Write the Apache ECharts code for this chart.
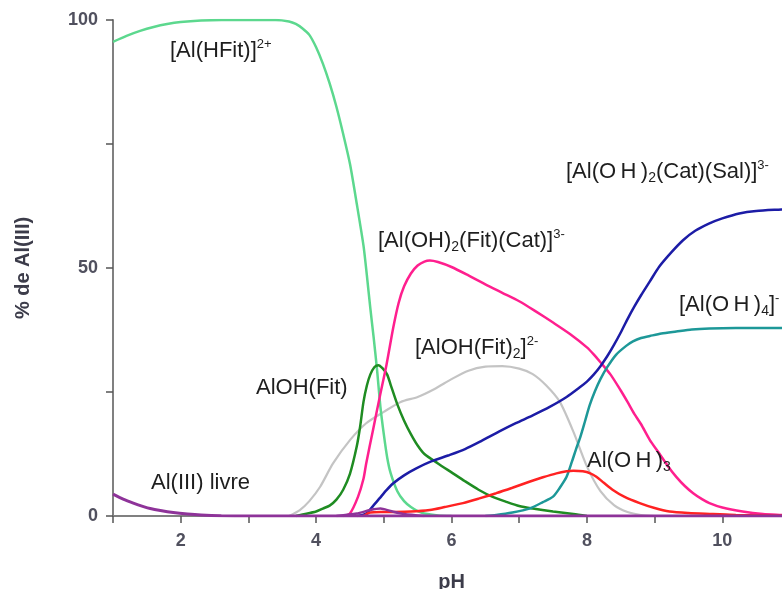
<!DOCTYPE html>
<html>
<head>
<meta charset="utf-8">
<script src="https://cdn.jsdelivr.net/npm/echarts@6/dist/echarts.min.js"></script>
<style>
  html, body { margin: 0; padding: 0; background: #ffffff; }
  #chart { width: 782px; height: 589px; }
</style>
</head>
<body>
<div id="chart"></div>
<script>
// Speciation of Al(III): percentage of each species versus pH
const xTicks = [2, 4, 6, 8, 10];
const yTicks = [0, 50, 100];

// [pH, % de Al(III)] for each species
const alLivre = [[1.0,4.4],[1.15,3.4],[1.3,2.6],[1.45,1.9],[1.55,1.5],[1.7,1.1],[1.89,0.7],[2.1,0.4],[2.3,0.2],[2.6,0.05],[3.0,0],[5.0,0],[8.0,0],[11.0,0]];
const alFitMinor = [[4.3,0],[4.6,0.5],[4.8,1.2],[4.95,1.5],[5.1,1.0],[5.3,0.4],[5.6,0]];
const alHFit = [[1.0,95.6],[1.2,96.8],[1.4,97.8],[1.6,98.6],[1.8,99.2],[2.0,99.6],[2.3,99.9],[2.6,100],[3.0,100],[3.4,100],[3.6,99.7],[3.7,99.2],[3.8,98.3],[3.9,97.0],[4.0,94.5],[4.1,91.2],[4.2,87.2],[4.3,82.5],[4.4,77],[4.5,71],[4.6,63],[4.7,54.5],[4.75,48.5],[4.8,42],[4.85,36],[4.9,29.5],[4.95,22],[5.0,16.5],[5.05,11.8],[5.1,8.7],[5.2,5],[5.3,3],[5.4,1.8],[5.5,1],[5.6,0.5],[5.8,0.1],[6.0,0]];
const alOHFit = [[3.7,0],[3.8,0.3],[4.0,0.9],[4.1,1.5],[4.2,2.1],[4.3,3.3],[4.4,5.3],[4.5,8.5],[4.6,14],[4.65,18],[4.7,23],[4.75,26.3],[4.8,28.5],[4.86,30],[4.92,30.4],[4.98,29.8],[5.05,28.5],[5.1,26.5],[5.2,22.5],[5.3,19.2],[5.4,16.5],[5.5,14.2],[5.6,12.5],[5.8,10.6],[6.0,8.8],[6.2,7],[6.4,5.3],[6.6,3.9],[6.8,2.9],[7.0,2],[7.2,1.5],[7.5,0.9],[7.8,0.4],[8.0,0]];
const alOHFit2 = [[3.6,0],[3.76,1.2],[3.9,3],[4.06,5.9],[4.25,10.6],[4.5,15.3],[4.74,18.7],[5.0,21],[5.25,23],[5.5,24],[5.75,25.6],[6.0,27.6],[6.25,29.3],[6.5,30.1],[6.75,30.2],[7.0,29.7],[7.2,28.6],[7.4,26.3],[7.6,23],[7.8,17],[8.0,10],[8.2,5],[8.4,2.2],[8.6,0.8],[8.8,0.2],[9.0,0]];
const alOH2FitCat = [[4.4,0],[4.5,0.5],[4.62,3.9],[4.7,7.5],[4.74,10.6],[4.84,17.3],[4.94,24],[5.04,30.5],[5.14,38],[5.22,43],[5.3,46.3],[5.4,48.9],[5.5,50.5],[5.6,51.3],[5.68,51.5],[5.8,51.2],[6.0,50.2],[6.25,48.5],[6.5,46.7],[6.75,45],[7.0,43.3],[7.25,41.2],[7.5,39],[7.75,36.7],[8.0,34],[8.1,32.6],[8.2,31],[8.35,28.5],[8.5,25.3],[8.6,23],[8.7,20.6],[8.8,18.5],[8.93,15.3],[9.07,12.6],[9.2,10],[9.32,7.9],[9.45,6],[9.57,4.6],[9.7,3.4],[9.81,2.6],[10.0,1.7],[10.3,0.9],[10.6,0.4],[10.9,0.2],[11.0,0.1]];
const alOH2CatSal = [[4.6,0],[4.74,0.5],[4.84,2],[4.94,3.6],[5.04,5.2],[5.14,6.6],[5.3,8.2],[5.48,9.6],[5.7,11],[5.95,12.2],[6.2,13.5],[6.45,15.2],[6.7,17],[6.95,18.7],[7.2,20.3],[7.45,22],[7.7,24],[7.9,26],[8.0,27.1],[8.1,28.5],[8.2,30.2],[8.3,32.2],[8.4,34.5],[8.5,37],[8.6,39.7],[8.7,42.2],[8.8,44.5],[8.93,47.3],[9.07,50.3],[9.25,53.2],[9.42,55.6],[9.6,57.5],[9.81,59],[10.0,60],[10.25,61],[10.5,61.5],[10.87,61.8],[11.0,61.9]];
const alOH4 = [[6.5,0],[6.66,0.2],[6.9,0.7],[7.15,1.5],[7.35,2.8],[7.5,3.9],[7.6,5.7],[7.7,7.9],[7.78,11],[7.84,13.5],[7.9,15.8],[7.97,19],[8.04,22.3],[8.12,25.2],[8.2,27.6],[8.3,30],[8.43,32.5],[8.58,34.3],[8.68,35.2],[8.8,35.9],[8.93,36.3],[9.1,36.8],[9.32,37.2],[9.55,37.6],[9.81,37.8],[10.2,37.9],[11.0,37.9]];
const alOH3 = [[4.7,0],[4.8,0.7],[5.0,0.8],[5.4,0.9],[5.68,1.2],[5.9,1.8],[6.17,2.6],[6.4,3.5],[6.66,4.6],[6.9,5.7],[7.15,6.9],[7.35,7.8],[7.55,8.6],[7.7,9.0],[7.8,9.1],[7.94,9.0],[8.05,8.6],[8.14,7.9],[8.25,6.7],[8.39,5.2],[8.55,3.9],[8.78,2.6],[9.0,1.6],[9.22,0.9],[9.5,0.6],[9.86,0.4],[10.2,0.2],[11.0,0]];

const FONT = '"Liberation Sans", Arial, sans-serif';
const TXT = '#1e1e1e';
const LBL = 22;

function curve(name, data, color, width, z) {
  return {
    name: name,
    type: 'line',
    data: data,
    smooth: 0.25,
    symbol: 'none',
    z: z,
    lineStyle: { color: color, width: width },
    emphasis: { disabled: true }
  };
}

function label(left, top, text) {
  return {
    type: 'text',
    left: left,
    top: top,
    z: 100,
    style: {
      text: text,
      fill: TXT,
      font: LBL + 'px ' + FONT,
      rich: {
        m: { fontSize: LBL, fontFamily: FONT, fill: TXT, color: TXT, lineHeight: 26, verticalAlign: 'middle' },
        sup: { fontSize: 13, fontFamily: FONT, fill: TXT, color: TXT, lineHeight: 26, verticalAlign: 'top' },
        sub: { fontSize: 14, fontFamily: FONT, fill: TXT, color: TXT, lineHeight: 26, verticalAlign: 'bottom' }
      }
    }
  };
}

const chart = echarts.init(document.getElementById('chart'), null, { renderer: 'canvas' });

chart.setOption({
  animation: false,
  backgroundColor: '#ffffff',
  grid: { left: 113, top: 20, right: -8, bottom: 73, containLabel: false, outerBoundsMode: 'none' },
  xAxis: [{
    type: 'value',
    min: 1,
    max: 11,
    interval: 1,
    name: 'pH',
    nameLocation: 'middle',
    nameGap: 56,
    nameTextStyle: { fontFamily: FONT, fontSize: 20, fontWeight: 'bold', color: '#3c3c4a' },
    axisLine: { show: true, onZero: false, lineStyle: { color: '#808080', width: 2 } },
    axisTick: { show: true, inside: false, length: 7, lineStyle: { color: '#555555', width: 1.5 } },
    axisLabel: {
      margin: 16,
      fontFamily: FONT, fontSize: 18, fontWeight: 'bold', color: '#50505e',
      formatter: v => (xTicks.indexOf(v) >= 0 ? String(v) : '')
    },
    splitLine: { show: false }
  }, {
    type: 'value',
    position: 'top',
    min: 1,
    max: 11,
    axisLine: { show: true, lineStyle: { color: '#808080', width: 2 } },
    axisTick: { show: false },
    axisLabel: { show: false },
    splitLine: { show: false }
  }],
  yAxis: {
    type: 'value',
    min: 0,
    max: 100,
    interval: 25,
    name: '% de Al(III)',
    nameLocation: 'middle',
    nameGap: 80,
    nameRotate: 90,
    nameTextStyle: { fontFamily: FONT, fontSize: 20, fontWeight: 'bold', color: '#3c3c4a' },
    axisLine: { show: true, lineStyle: { color: '#808080', width: 2 } },
    axisTick: { show: true, inside: false, length: 7, lineStyle: { color: '#555555', width: 1.5 } },
    axisLabel: {
      margin: 15,
      fontFamily: FONT, fontSize: 18, fontWeight: 'bold', color: '#50505e',
      formatter: v => (yTicks.indexOf(v) >= 0 ? String(v) : '')
    },
    splitLine: { show: false }
  },
  series: [
    curve('[Al(HFit)]2+', alHFit, '#5cd88e', 2.5, 3),
    curve('[AlOH(Fit)2]2-', alOHFit2, '#c4c4c4', 2.2, 2),
    curve('AlOH(Fit)', alOHFit, '#1f8c22', 2.5, 4),
    curve('[Al(OH)2(Fit)(Cat)]3-', alOH2FitCat, '#ff1f8e', 2.5, 5),
    curve('[Al(OH)2(Cat)(Sal)]3-', alOH2CatSal, '#1c1ca6', 2.5, 6),
    curve('[Al(OH)4]-', alOH4, '#1d9898', 2.5, 5),
    curve('Al(OH)3', alOH3, '#ff2222', 2.5, 7),
    curve('Al(Fit)', alFitMinor, '#8e3399', 2.5, 8),
    curve('Al(III) livre', alLivre, '#8e3399', 3, 9)
  ],
  graphic: [
    label(170, 38, '{m|[Al(HFit)]}{sup|2+}'),
    label(378, 228, '{m|[Al(OH)}{sub|2}{m|(Fit)(Cat)]}{sup|3-}'),
    label(256, 377, '{m|AlOH(Fit)}'),
    label(415, 335, '{m|[AlOH(Fit)}{sub|2}{m|]}{sup|2-}'),
    label(151, 472, '{m|Al(III) livre}'),
    label(587, 450, '{m|Al(O\u2009H\u2009)}{sub|3}'),
    label(566, 159, '{m|[Al(O\u2009H\u2009)}{sub|2}{m|(Cat)(Sal)]}{sup|3-}'),
    label(679, 292, '{m|[Al(O\u2009H\u2009)}{sub|4}{m|]}{sup|-}')
  ]
});
</script>
</body>
</html>
